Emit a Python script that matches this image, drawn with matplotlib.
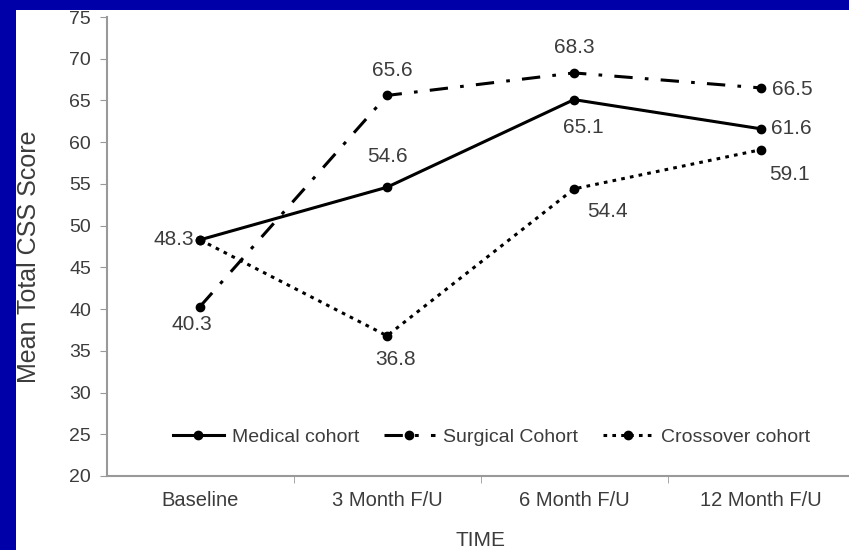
import matplotlib.pyplot as plt
import matplotlib.patches as patches

plt.rcParams['font.family'] = ['Liberation Sans', 'DejaVu Sans']

# data
timepoints = ["Baseline", "3 Month F/U", "6 Month F/U", "12 Month F/U"]
medical = [48.3, 54.6, 65.1, 61.6]
surgical = [40.3, 65.6, 68.3, 66.5]
crossover = [48.3, 36.8, 54.4, 59.1]

txt = "#3c3c3c"
blue = "#0000a8"
fig = plt.figure(figsize=(8.49, 5.5), dpi=100)
fig.patch.set_facecolor("white")
# blue slide border on the left and top
fig.patches.append(patches.Rectangle((0, 0), 16 / 849, 1, transform=fig.transFigure,
                                     facecolor=blue, edgecolor="none"))
fig.patches.append(patches.Rectangle((0, 1 - 10 / 550), 1, 10 / 550, transform=fig.transFigure,
                                     facecolor=blue, edgecolor="none"))

ax = fig.add_axes([106.5 / 849, 74 / 550, 748 / 849, 459 / 550])
ax.set_facecolor("white")
x = list(range(len(timepoints)))

ax.plot(x, medical, color="black", lw=2.2, marker="o", ms=6, label="Medical cohort")
ax.plot(x, surgical, color="black", lw=2.2, marker="o", ms=6, dashes=(6, 4, 1.2, 4),
        label="Surgical Cohort")
ax.plot(x, crossover, color="black", lw=2.2, marker="o", ms=6, dashes=(1.2, 1.7),
        label="Crossover cohort")

ax.set_xlim(-0.5, 3.5)
ax.set_ylim(20, 75)
ax.set_yticks(range(20, 76, 5))
ax.set_xticks(x)
ax.set_xticklabels(timepoints)
ax.set_xticks([0.5, 1.5, 2.5], minor=True)
ax.tick_params(axis="x", which="major", length=0, pad=11, labelsize=14.5, labelcolor=txt)
ax.tick_params(axis="x", which="minor", length=5, color="#999999")
ax.tick_params(axis="y", length=5, color="#999999", labelsize=14, labelcolor=txt, pad=6)

for s in ["top", "right"]:
    ax.spines[s].set_visible(False)
for s in ["left", "bottom"]:
    ax.spines[s].set_color("#999999")
    ax.spines[s].set_linewidth(1.5)

ax.set_ylabel("Mean Total CSS Score", fontsize=18, color=txt)
ax.yaxis.set_label_coords(-0.088, 0.477)
ax.set_xlabel("TIME", fontsize=15, color=txt, labelpad=15)

# data labels (offsets in points)
lab = dict(fontsize=15, color=txt, textcoords="offset points", va="center")
med_off = [(-4, 0, "right"), (0, 22, "center"), (7, -20, "center"), (7, 0, "left")]
sur_off = [(-6, -13, "center"), (4, 18, "center"), (0, 18, "center"), (8, -1, "left")]
cro_off = [None, (6, -17, "center"), (24, -16, "center"), (6, -18, "left")]
for i in x:
    dx, dy, ha = med_off[i]
    ax.annotate(f"{medical[i]:.1f}", (i, medical[i]), xytext=(dx, dy), ha=ha, **lab)
    dx, dy, ha = sur_off[i]
    ax.annotate(f"{surgical[i]:.1f}", (i, surgical[i]), xytext=(dx, dy), ha=ha, **lab)
    if cro_off[i] is not None:
        dx, dy, ha = cro_off[i]
        ax.annotate(f"{crossover[i]:.1f}", (i, crossover[i]), xytext=(dx, dy), ha=ha, **lab)

leg = ax.legend(loc="center", ncol=3, frameon=False, fontsize=14, handlelength=2.6,
                handletextpad=0.4, columnspacing=1.3, bbox_to_anchor=(0.515, 0.085),
                labelcolor=txt)

fig.savefig("out.png", dpi=100, facecolor=fig.get_facecolor())
